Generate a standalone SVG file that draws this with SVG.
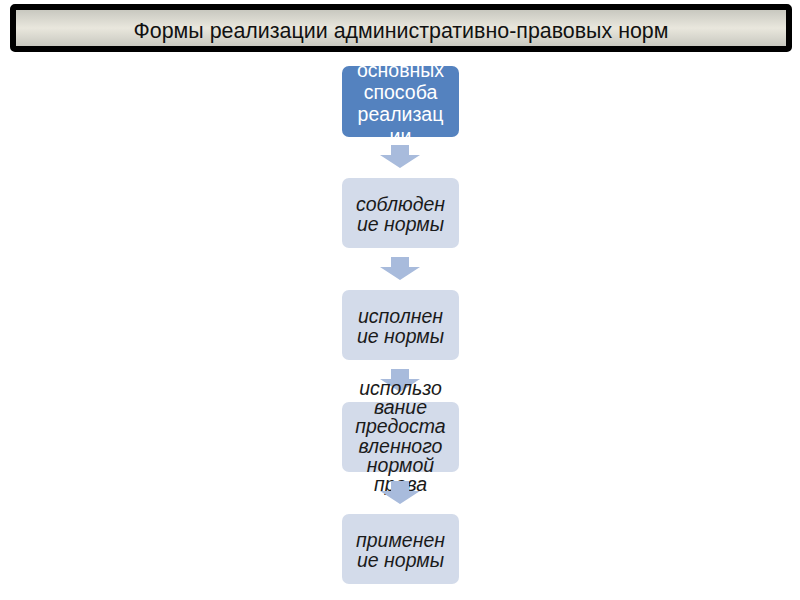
<svg xmlns="http://www.w3.org/2000/svg" width="800" height="600" viewBox="0 0 800 600">
<defs>
<linearGradient id="tg" x1="0" y1="0" x2="0" y2="1">
<stop offset="0" stop-color="#c3c3bb"/>
<stop offset="0.5" stop-color="#e9e7dd"/>
<stop offset="1" stop-color="#c3c3bb"/>
</linearGradient>
<clipPath id="c1"><rect x="342" y="66" width="117" height="71" rx="7"/></clipPath>
<path id="arr" d="M391,0 H409 V10 H420 L400,23 L380,10 H391 Z"/>
</defs>
<style>
.box{fill:#d3dbea}
.box1{fill:#5482bf}
.arrow{fill:#a8bbdc}
.t{font-family:"Liberation Sans",Arial,sans-serif;font-size:19.5px;text-anchor:middle}
.ti{font-style:italic;fill:#1a1a1a}
.tw{fill:#ffffff}
.title{font-family:"Liberation Sans",Arial,sans-serif;font-size:22px;text-anchor:middle;fill:#111}
</style>
<rect width="800" height="600" fill="#ffffff"/>
<g id="title">
<rect x="13" y="7" width="776" height="42" rx="2" fill="url(#tg)" stroke="#000" stroke-width="6"/>
<text class="title" x="401" y="38" textLength="535" lengthAdjust="spacingAndGlyphs">Формы реализации административно-правовых норм</text>
</g>
<g id="node1">
<rect class="box1" x="342" y="66" width="117" height="71" rx="7"/>
<g clip-path="url(#c1)">
<text class="t tw" x="400.5" y="77">основных</text>
<text class="t tw" x="400.5" y="99">способа</text>
<text class="t tw" x="400.5" y="121">реализац</text>
<text class="t tw" x="400.5" y="143">ии</text>
</g>
</g>
<g id="connectors-1">
<use href="#arr" class="arrow" y="145"/>
</g>
<g id="node2">
<rect class="box" x="342" y="178" width="117" height="70" rx="7"/>
<text class="t ti" x="400.5" y="211">соблюден</text>
<text class="t ti" x="400.5" y="231">ие нормы</text>
</g>
<g id="connectors-2">
<use href="#arr" class="arrow" y="257"/>
</g>
<g id="node3">
<rect class="box" x="342" y="290" width="117" height="70" rx="7"/>
<text class="t ti" x="400.5" y="323">исполнен</text>
<text class="t ti" x="400.5" y="343">ие нормы</text>
</g>
<g id="connectors-3">
<use href="#arr" class="arrow" y="369"/>
</g>
<g id="node4">
<rect class="box" x="342" y="402" width="117" height="70" rx="7"/>
<text class="t ti" x="400.5" y="395">использо</text>
<text class="t ti" x="400.5" y="414">вание</text>
<text class="t ti" x="400.5" y="433">предоста</text>
<text class="t ti" x="400.5" y="453">вленного</text>
<text class="t ti" x="400.5" y="472">нормой</text>
<text class="t ti" x="400.5" y="491">права</text>
</g>
<g id="connectors-4">
<use href="#arr" class="arrow" y="481"/>
</g>
<g id="node5">
<rect class="box" x="342" y="514" width="117" height="70" rx="7"/>
<text class="t ti" x="400.5" y="547">применен</text>
<text class="t ti" x="400.5" y="567">ие нормы</text>
</g>
</svg>
